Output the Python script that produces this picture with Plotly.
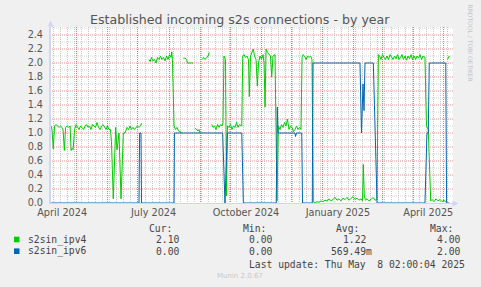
import plotly.graph_objects as go
import pandas as pd

# ---------------- data ----------------
BASE = pd.Timestamp("2024-04-04 10:00")
RANGE_DAYS = 401.2

ipv4_days = [1.0, 2.0, 3.3, 4.5, 6, 7.5, 9, 10.5, 12, 13, 14.3, 15.5, 17, 18.5, 20, 21, 22, 23, 24.5, 26,
             27.4, 28.9, 30.4, 31.9, 33.4, 34.9, 36.3, 37.8, 39.3, 40.8, 42.3, 43.8, 45.3, 46.8, 48.3, 49.8,
             51.3, 52.8, 54.3, 55.8, 57.2, 58.7, 60.2, 61.2, 63.0, 65.4, 66.7, 68.7, 70.7, 73.0, 74.7, 76.7,
             78.2, 79.6, 81.1, 82.6, 84.1, 85.6, 87.1, 88.6, 90.1, 91.3,
             92.0,
             98.6, 99.6, 101.1, 102.5, 104.0, 105.5, 107.0, 108.5, 110.0, 111.5, 113.0, 114.5, 116.0, 117.5,
             119.0, 120.5, 121.2, 121.9, 123.5, 124.9, 126.4, 127.9, 129.4, 131.1,
             132.0,
             132.7, 134.4, 135.9, 136.9, 138.4, 140.4, 142.7,
             143.5,
             144.4, 145.9, 147.3, 148.3, 149.3,
             150.5,
             151.6, 152.8, 154.3, 155.8, 157.3, 158.6,
             159.8,
             161.0, 162.3, 163.8, 165.3, 166.8, 168.3, 169.8, 171.2, 172.2, 173.2, 174.7, 175.7, 176.7, 178.2,
             179.7, 181.2, 182.7, 184.2, 185.7, 187.2, 188.7, 190.2, 190.9, 191.9, 193.1, 194.6, 196.1, 197.6,
             198.4, 199.6, 200.8, 202.4, 203.6, 205.1, 206.4, 207.6, 209.1, 210.6, 212.1, 213.1, 214.1, 215.1,
             216.5, 218.0, 219.5, 220.7, 222.0, 224.0, 225.0, 226.0, 227.3,
             229.0, 230.5, 232.0, 233.5, 234.9, 236.4, 237.9, 239.4, 240.9, 242.4, 243.9, 245.4, 246.9, 248.4,
             249.9, 250.9, 251.9, 253.4, 254.9, 256.4, 257.9, 259.4, 260.8, 262.1,
             263.8, 265.8, 267.8, 269.8, 271.8, 273.8, 275.8, 277.8, 279.8, 281.8, 283.7, 285.7, 287.7, 289.7,
             291.7, 293.7, 295.7, 297.7, 299.7, 301.7, 303.7, 305.6, 307.6, 309.6, 311.1, 311.9, 312.9, 314.1,
             315.6, 317.6, 319.6, 321.6, 323.6, 325.5, 326.9,
             328.1, 329.5, 331.0, 332.5, 334.0, 335.5, 337.0, 338.5, 340.0, 341.5, 343.0, 344.5, 346.0, 347.5,
             349.0, 350.4, 351.9, 353.4, 354.9, 356.4, 357.9, 359.4, 360.9, 362.4, 363.9, 365.4, 366.9, 368.4,
             369.9, 371.4, 373.3, 374.8, 376.6, 379.0, 380.3, 382.3, 384.3, 386.3, 388.3, 390.3, 392.3, 394.0,
             395.0,
             395.6, 396.6, 397.6]

ipv4_vals = [1.10, 1.05, 0.77, 1.10, 1.12, 1.10, 1.08, 1.10, 1.08, 1.05, 0.75, 1.08, 1.10, 1.08, 1.10, 0.75,
             0.78, 0.76, 1.05, 1.12, 1.08, 1.05, 1.10, 1.08, 1.05, 1.10, 1.12, 1.08, 1.10, 1.05, 1.12, 1.10,
             1.08, 1.15, 1.08, 1.05, 1.10, 1.12, 1.08, 1.05, 1.10, 1.05, 1.05, 0.88, 0.06, 1.08, 0.76, 1.00,
             0.06, 1.00, 1.00, 1.08, 1.05, 1.10, 1.05, 1.08, 1.05, 1.08, 1.10, 1.08, 1.10, 1.14,
             None,
             2.05, 2.02, 2.08, 2.03, 2.05, 2.00, 2.08, 2.05, 2.10, 2.05, 2.08, 2.03, 2.10, 2.05, 2.12, 2.08,
             2.16, 2.05, 1.10, 1.05, 1.08, 1.03, 1.02, 1.00,
             None,
             2.07, 2.07, 2.05, 2.00, 2.00, 2.00, 2.00,
             None,
             1.07, 1.05, 1.03, 1.05, 1.00,
             None,
             2.05, 2.08, 2.05, 2.08, 2.10, 2.15,
             None,
             1.12, 1.08, 1.10, 1.05, 1.12, 1.08, 1.12, 1.10, 1.15, 2.10, 2.05, 0.10, 1.10, 1.08,
             1.12, 1.05, 1.10, 1.08, 1.15, 1.08, 1.12, 1.10, 1.10, 2.10, 2.12, 2.08, 2.10, 2.05,
             1.52, 2.10, 2.15, 2.20, 2.10, 2.05, 1.67, 2.00, 2.10, 2.05, 2.12, 2.00, 1.37, 2.20,
             2.15, 2.12, 2.10, 1.80, 2.10, 2.12, 0.80, 0.03, 1.10,
             1.05, 1.12, 1.08, 1.15, 1.10, 1.20, 1.05, 1.10, 1.08, 1.02, 1.05, 1.10, 1.05, 1.08,
             1.05, 2.08, 2.12, 2.10, 2.05, 2.10, 2.08, 2.10, 2.05, 0.02,
             0.00, 0.02, 0.01, 0.03, 0.02, 0.04, 0.03, 0.06, 0.03, 0.05, 0.08, 0.04, 0.06, 0.03,
             0.07, 0.05, 0.08, 0.04, 0.06, 0.09, 0.05, 0.07, 0.04, 0.06, 0.03, 0.55, 0.10, 0.04,
             0.06, 0.03, 0.05, 0.08, 0.04, 0.05, 2.12,
             2.10, 2.05, 2.12, 2.08, 2.05, 2.10, 2.05, 2.12, 2.08, 2.05, 2.10, 2.06, 2.12, 2.05,
             2.08, 2.12, 2.05, 2.10, 2.04, 2.10, 2.06, 2.12, 2.05, 2.10, 2.05, 2.10, 2.07, 2.12,
             2.05, 2.10, 2.08, 1.10, 1.05, 0.03, 0.05, 0.02, 0.06, 0.03, 0.05, 0.02, 0.04, 0.01,
             None,
             2.05, 2.08, 2.10]

ipv6_days = [0.0, 88.6, 89.2, 90.6, 91.1, 123.5, 123.9, 171.9, 174.2, 176.5, 190.9, 192.5, 225.2, 225.7,
             226.3, 227.0, 243.9, 244.4, 245.4, 250.6, 251.4, 261.1, 261.8, 308.6, 310.1, 311.6, 312.6,
             313.6, 321.9, 325.6, 373.3, 375.3, 376.6, 377.6, 394.0, 394.8, 397.6]
ipv6_vals = [0.0, 0.0, 1.0, 1.0, 0.0, 0.0, 1.0, 1.0, 0.0, 1.0, 1.0, 0.0, 0.0, 1.0,
             1.37, 1.0, 1.0, 0.95, 1.0, 1.0, 0.0, 0.0, 2.0, 2.0, 1.0, 1.7, 1.32,
             2.0, 2.0, 0.0, 0.0, 1.0, 1.0, 2.0, 2.0, 0.0, 0.0]

month_starts = ["2024-05-01", "2024-06-01", "2024-07-01", "2024-08-01", "2024-09-01", "2024-10-01",
                "2024-11-01", "2024-12-01", "2025-01-01", "2025-02-01", "2025-03-01", "2025-04-01",
                "2025-05-01"]
tick_dates = ["2024-04-16 12:00", "2024-07-16 12:00", "2024-10-16 12:00", "2025-01-16 00:00",
              "2025-04-16 00:00"]
tick_labels = ["April 2024", "July 2024", "October 2024", "January 2025", "April 2025"]
y_ticks = [0.0, 0.2, 0.4, 0.6, 0.8, 1.0, 1.2, 1.4, 1.6, 1.8, 2.0, 2.2, 2.4]
y_minor = [0.1, 0.3, 0.5, 0.7, 0.9, 1.1, 1.3, 1.5, 1.7, 1.9, 2.1, 2.3, 2.5]

series_names = ["s2sin_ipv4", "s2sin_ipv6"]
series_colors = ["#00CC00", "#0066B3"]
cur_vals = ["2.10", "0.00"]
min_vals = ["0.00", "0.00"]
avg_vals = ["1.22", "569.49m"]
max_vals = ["4.00", "2.00"]

TITLE = "Established incoming s2s connections - by year"
LAST_UPDATE = "Last update: Thu May \u00a08 02:00:04 2025"

# ---------------- layout geometry ----------------
W, H = 481, 287
L, R, T, B = 50, 453, 27, 203
PW, PH = R - L, B - T


def px(x):
    return (x - L) / PW


def py(y):
    return (B - y) / PH


x4 = [BASE + pd.Timedelta(days=d) for d in ipv4_days]
x6 = [BASE + pd.Timedelta(days=d) for d in ipv6_days]
xr = [BASE, BASE + pd.Timedelta(days=RANGE_DAYS)]

fig = go.Figure()
fig.add_trace(go.Scatter(x=x4, y=ipv4_vals, mode="lines", name=series_names[0],
                         line=dict(color=series_colors[0], width=1), connectgaps=False,
                         hoverinfo="skip"))
fig.add_trace(go.Scatter(x=x6, y=ipv6_vals, mode="lines", name=series_names[1],
                         line=dict(color=series_colors[1], width=1), connectgaps=False,
                         hoverinfo="skip"))
# carrier trace for the label axis
fig.add_trace(go.Scatter(x=[xr[0]], y=[None], xaxis="x2", yaxis="y", mode="lines",
                         showlegend=False, hoverinfo="skip"))

RED = "rgb(232,120,120)"
RED_H = "rgb(238,150,150)"
GRAY = "rgb(200,200,200)"
GRAY_H = "rgb(212,212,212)"
DASH = "1px,1px"
AXIS = "#CFD6F8"
FONT = "DejaVu Sans"
MONO = "DejaVu Sans Mono"

fig.update_layout(
    width=W, height=H,
    margin=dict(l=L, r=W - R, t=T, b=H - B, pad=0),
    paper_bgcolor="#F0F0F0", plot_bgcolor="#FFFFFF",
    showlegend=False,
    xaxis=dict(type="date", range=xr, tickmode="array", tickvals=month_starts,
               showticklabels=False, ticks="", showgrid=True, gridcolor=RED, griddash=DASH,
               gridwidth=1, showline=True, linecolor=AXIS, linewidth=1, zeroline=False,
               minor=dict(showgrid=True, tick0="2024-04-15", dtick=7 * 86400000, gridcolor=GRAY,
                          griddash=DASH, gridwidth=1, ticks="")),
    xaxis2=dict(type="date", range=xr, overlaying="x", anchor="y", side="bottom", tickmode="array",
                tickvals=tick_dates, ticktext=tick_labels, showgrid=False, showline=False, ticks="",
                zeroline=False, ticklabelstandoff=2,
                tickfont=dict(family=FONT, size=9.7, color="#555555")),
    yaxis=dict(range=[0, PH / 70.0], tickmode="array", tickvals=y_ticks,
               ticktext=["%.1f" % v for v in y_ticks], ticks="", showgrid=False,
               showline=True, linecolor=AXIS, linewidth=1,
               zeroline=False, ticklabelstandoff=4,
               tickfont=dict(family=FONT, size=9.7, color="#555555")),
)

shapes = []
# horizontal grid lines on the y scale (minor grey every 0.1, major red every 0.2)
for v in y_minor:
    shapes.append(dict(type="line", xref="x", yref="y", x0=xr[0], x1=xr[1], y0=v, y1=v,
                       layer="below", line=dict(color=GRAY_H, width=1, dash=DASH)))
for v in y_ticks[1:]:
    shapes.append(dict(type="line", xref="x", yref="y", x0=xr[0], x1=xr[1], y0=v, y1=v,
                       layer="below", line=dict(color=RED_H, width=1, dash=DASH)))

ann = []


def text(x, y, s, size, color="#444444", family=MONO, xanchor="left", angle=0):
    ann.append(dict(x=px(x), y=py(y), xref="paper", yref="paper", text=s, showarrow=False,
                    xanchor=xanchor, yanchor="middle", textangle=angle,
                    font=dict(family=family, size=size, color=color), borderpad=0))


text(240, 19.5, TITLE, 12.6, color="#555555", family=FONT, xanchor="center")
text(470.5, 43, "RRDTOOL / TOBI OETIKER", 6, color="#C4C4C4", family=FONT, xanchor="center", angle=90)
text(173, 228, "Cur:", 9.7, xanchor="right")
text(267, 228, "Min:", 9.7, xanchor="right")
text(360, 228, "Avg:", 9.7, xanchor="right")
text(454, 228, "Max:", 9.7, xanchor="right")
rows_y = [239.5, 251.2]
for i in range(2):
    yy = rows_y[i]
    text(27, yy, series_names[i], 9.7)
    text(180, yy, cur_vals[i], 9.7, xanchor="right")
    text(273, yy, min_vals[i], 9.7, xanchor="right")
    text(367 + (6 if avg_vals[i].endswith("m") else 0), yy, avg_vals[i], 9.7, xanchor="right")
    text(461, yy, max_vals[i], 9.7, xanchor="right")
    shapes.append(dict(type="rect", xref="paper", yref="paper", x0=px(14), x1=px(19.5),
                       y0=py(yy + 2.8), y1=py(yy - 2.8), fillcolor=series_colors[i],
                       line=dict(width=0)))
text(466, 264, LAST_UPDATE, 9.7, xanchor="right")
text(240, 276, "Munin 2.0.67", 7, color="#C8C8C8", family=FONT, xanchor="center")

# axis arrows
shapes.append(dict(type="line", xref="paper", yref="paper", x0=px(50.5), x1=px(50.5), y0=py(203),
                   y1=py(24), line=dict(color=AXIS, width=1)))
shapes.append(dict(type="path", xref="paper", yref="paper",
                   path="M %f,%f L %f,%f L %f,%f Z" % (px(47.5), py(26.5), px(53.5), py(26.5),
                                                        px(50.5), py(20.5)),
                   fillcolor=AXIS, line=dict(width=0)))
shapes.append(dict(type="line", xref="paper", yref="paper", x0=px(50), x1=px(455), y0=py(203.5),
                   y1=py(203.5), line=dict(color=AXIS, width=1)))
shapes.append(dict(type="path", xref="paper", yref="paper",
                   path="M %f,%f L %f,%f L %f,%f Z" % (px(452.5), py(200.5), px(452.5), py(206.5),
                                                        px(458.5), py(203.5)),
                   fillcolor=AXIS, line=dict(width=0)))

fig.update_layout(annotations=ann, shapes=shapes)
fig.write_html("out.html")
